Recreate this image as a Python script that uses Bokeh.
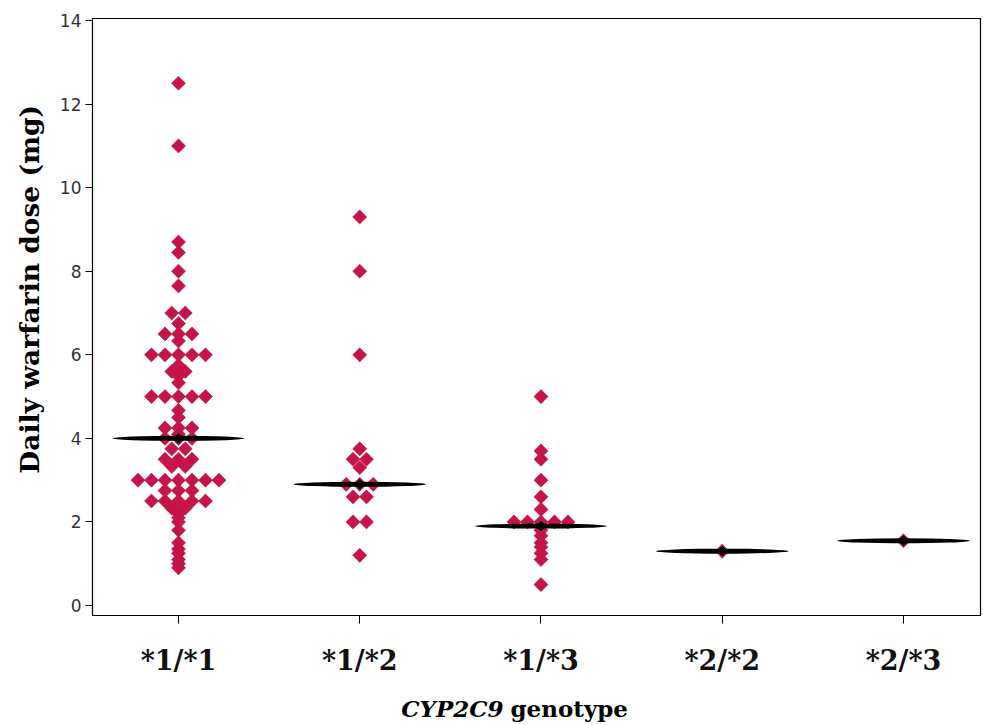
import numpy as np
from collections import Counter
from bokeh.plotting import figure
from bokeh.layouts import column
from bokeh.models import FixedTicker, ColumnDataSource
from bokeh.core.properties import value
from bokeh.embed import file_html
from bokeh.resources import INLINE

# ---------------- data ----------------
genotypes = ["*1/*1", "*1/*2", "*1/*3", "*2/*2", "*2/*3"]

dose_11 = [12.5, 11.0, 8.7, 8.45, 8.0, 7.65, 7.0, 7.0, 6.75, 6.5, 6.5, 6.5, 6.33,
           6.0, 6.0, 6.0, 6.0, 6.0, 5.75, 5.6, 5.6, 5.5, 5.33,
           5.0, 5.0, 5.0, 5.0, 5.0, 4.67, 4.5, 4.25, 4.25, 4.25, 4.1,
           4.0, 4.0, 4.0, 3.75, 3.75, 3.5, 3.5, 3.5, 3.33, 3.33,
           3.0, 3.0, 3.0, 3.0, 3.0, 3.0, 3.0, 2.75, 2.75, 2.75,
           2.5, 2.5, 2.5, 2.5, 2.5, 2.33, 2.33, 2.2, 2.1, 2.0, 1.8,
           1.5, 1.35, 1.25, 1.1, 1.0, 0.9]
dose_12 = [9.3, 8.0, 6.0, 3.75, 3.5, 3.5, 3.3, 2.9, 2.9, 2.9, 2.6, 2.6, 2.0, 2.0, 1.2]
dose_13 = [5.0, 3.7, 3.5, 3.0, 2.6, 2.3, 2.0, 2.0, 2.0, 2.0, 2.0,
           1.8, 1.67, 1.5, 1.4, 1.25, 1.1, 0.5]
dose_22 = [1.3]
dose_23 = [1.55]
medians = [4.0, 2.9, 1.9, 1.3, 1.55]

groups = [dose_11, dose_12, dose_13, dose_22, dose_23]

# ---------------- layout constants ----------------
W = 983
H1, H2 = 690, 35
ML, MR, MT, MB = 92, 3, 18, 75
x_lo, x_hi = 0.5255, 5.425
y_lo, y_hi = -0.24, 14.05
px_per_x = (W - ML - MR) / (x_hi - x_lo)
STEP = 13.5 / px_per_x  # horizontal spacing of tied values

xs, ys = [], []
for gi, vals in enumerate(groups):
    cnt = Counter(vals)
    for v, n in cnt.items():
        for k in range(n):
            xs.append(gi + 1 + (k - (n - 1) / 2) * STEP)
            ys.append(v)

src = ColumnDataSource(dict(x=xs, y=ys))
med_src = ColumnDataSource(dict(x=list(range(1, len(genotypes) + 1)), y=medians))

p = figure(width=W, height=H1, x_range=(x_lo, x_hi), y_range=(y_lo, y_hi),
           output_backend="svg", toolbar_location=None,
           min_border_left=ML, min_border_right=MR, min_border_top=MT, min_border_bottom=MB)
p.background_fill_color = "white"
p.border_fill_color = "white"
p.outline_line_color = "black"
p.outline_line_width = 1.2
p.xgrid.visible = False
p.ygrid.visible = False

RED = "#c41448"
p.scatter("x", "y", source=src, marker="square", angle=np.pi / 4, size=10,
          fill_color=RED, line_color=RED, line_width=0.5)
p.ellipse("x", "y", source=med_src, width=0.73, height=5, height_units="screen",
          fill_color="black", line_color=None)
p.scatter("x", "y", source=med_src, marker="square", angle=np.pi / 4, size=7,
          fill_color="black", line_color="black")

# y axis
ya = p.yaxis[0]
ya.ticker = FixedTicker(ticks=list(range(0, 15, 2)))
ya.minor_tick_line_color = None
ya.major_tick_in = 0
ya.major_tick_out = 7
ya.axis_line_color = "black"
ya.major_tick_line_color = "black"
ya.major_label_text_font = "DejaVu Sans"
ya.major_label_text_font_size = "17px"
ya.major_label_text_color = "#333333"
ya.major_label_standoff = 4
ya.axis_label = "\u00a0" * 6 + "Daily warfarin dose (mg)"
ya.axis_label_text_font = "DejaVu Serif"
ya.axis_label_text_font_style = "bold"
ya.axis_label_text_font_size = "26.5px"
ya.axis_label_text_color = "black"
ya.axis_label_standoff = 12

# x axis
xa = p.xaxis[0]
xa.ticker = FixedTicker(ticks=[1, 2, 3, 4, 5])
xa.major_label_overrides = {i + 1: g for i, g in enumerate(genotypes)}
xa.minor_tick_line_color = None
xa.major_tick_in = 0
xa.major_tick_out = 8
xa.axis_line_color = "black"
xa.major_tick_line_color = "black"
xa.major_label_text_font = "DejaVu Serif"
xa.major_label_text_font_style = "bold"
xa.major_label_text_font_size = "27px"
xa.major_label_text_color = "#111111"
xa.major_label_standoff = 21

# x axis title strip (mixed italic / upright), sharing the x range
t = figure(width=W, height=H2, x_range=p.x_range, y_range=(0, 1),
           output_backend="svg", toolbar_location=None,
           min_border_left=ML, min_border_right=MR, min_border_top=0, min_border_bottom=0)
t.axis.visible = False
t.grid.visible = False
t.outline_line_color = None
t.background_fill_color = "white"
t.border_fill_color = "white"
x_join = 1 + (505 - 178) / px_per_x
t.text(x=[x_join], y=[0.5], text=["CYP2C9"], text_align="right", text_baseline="middle",
       x_offset=-2, text_font=value("DejaVu Serif"), text_font_style="bold italic",
       text_font_size="23px", text_color="black")
t.text(x=[x_join], y=[0.5], text=["genotype"], text_align="left", text_baseline="middle",
       x_offset=5, text_font=value("DejaVu Serif"), text_font_style="bold",
       text_font_size="23px", text_color="black")

layout = column(p, t, spacing=0)
open("out.html", "w").write(file_html(layout, INLINE))
